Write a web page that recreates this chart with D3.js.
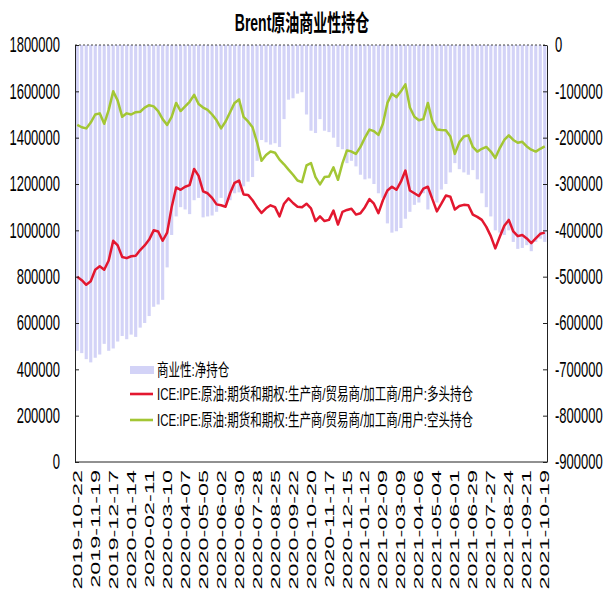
<!DOCTYPE html>
<html lang="zh-CN">
<head>
<meta charset="UTF-8">
<title>Brent原油商业性持仓</title>
<script src="https://cdn.jsdelivr.net/npm/d3@7"></script>
<style>
    body {
        margin: 0;
        background-color: white;
    }
    svg {
        display: block;
    }
    text {
        font-family: "Liberation Sans", Arial, "Noto Sans CJK SC", sans-serif;
        fill: #000;
    }
</style>
</head>
<body>
<svg id="chart" width="613" height="599"></svg>
<script>
// weekly data, first week
var startDate = "2019-10-22";

var tickLabels = ["2019-10-22", "2019-11-19", "2019-12-17", "2020-01-14", "2020-02-11", "2020-03-10",
    "2020-04-07", "2020-05-05", "2020-06-02", "2020-06-30", "2020-07-28", "2020-08-25", "2020-09-22",
    "2020-10-20", "2020-11-17", "2020-12-15", "2021-01-12", "2021-02-09", "2021-03-09", "2021-04-06",
    "2021-05-04", "2021-06-01", "2021-06-29", "2021-07-27", "2021-08-24", "2021-09-21", "2021-10-19"];

// 商业性:净持仓 (right axis)
var netPos = [-660000, -665000, -678000, -685000, -675000, -668000, -645000, -660000, -655000, -640000,
    -628000, -635000, -625000, -630000, -610000, -600000, -585000, -565000, -560000, -550000,
    -480000, -410000, -370000, -350000, -355000, -365000, -335000, -330000, -372000, -370000,
    -368000, -360000, -330000, -345000, -335000, -320000, -318000, -305000, -295000, -285000,
    -250000, -205000, -210000, -215000, -212000, -220000, -160000, -118000, -115000, -105000,
    -102000, -150000, -185000, -190000, -160000, -185000, -188000, -200000, -220000, -225000,
    -255000, -250000, -262000, -280000, -290000, -288000, -300000, -320000, -330000, -385000,
    -405000, -402000, -395000, -375000, -360000, -345000, -340000, -320000, -355000, -330000,
    -340000, -312000, -300000, -275000, -255000, -268000, -275000, -280000, -270000, -290000,
    -320000, -350000, -370000, -400000, -405000, -410000, -400000, -425000, -440000, -438000,
    -432000, -445000, -425000, -418000, -425000];

// 多头持仓 (left axis)
var longPos = [800000, 785000, 765000, 780000, 830000, 845000, 830000, 870000, 955000, 935000,
    885000, 880000, 888000, 890000, 915000, 935000, 960000, 1000000, 995000, 955000,
    990000, 1100000, 1185000, 1175000, 1188000, 1195000, 1265000, 1235000, 1168000, 1160000,
    1140000, 1112000, 1108000, 1102000, 1160000, 1205000, 1215000, 1155000, 1153000, 1130000,
    1100000, 1075000, 1095000, 1108000, 1100000, 1060000, 1115000, 1138000, 1118000, 1102000,
    1100000, 1115000, 1095000, 1040000, 1060000, 1040000, 1045000, 1085000, 1025000, 1080000,
    1088000, 1093000, 1068000, 1074000, 1100000, 1135000, 1115000, 1074000, 1130000, 1172000,
    1188000, 1175000, 1210000, 1258000, 1172000, 1160000, 1148000, 1180000, 1188000, 1135000,
    1082000, 1115000, 1150000, 1145000, 1090000, 1105000, 1110000, 1108000, 1068000, 1058000,
    1045000, 1015000, 975000, 922000, 972000, 1020000, 1045000, 995000, 975000, 980000,
    965000, 945000, 965000, 985000, 990000];

// 空头持仓 (left axis)
var shortPos = [1455000, 1445000, 1440000, 1465000, 1500000, 1505000, 1460000, 1520000, 1600000, 1560000,
    1490000, 1505000, 1500000, 1510000, 1512000, 1530000, 1540000, 1535000, 1515000, 1480000,
    1455000, 1490000, 1550000, 1515000, 1535000, 1555000, 1585000, 1545000, 1530000, 1520000,
    1500000, 1475000, 1440000, 1470000, 1510000, 1550000, 1565000, 1490000, 1470000, 1445000,
    1380000, 1300000, 1325000, 1340000, 1335000, 1305000, 1285000, 1262000, 1240000, 1215000,
    1208000, 1280000, 1290000, 1230000, 1198000, 1230000, 1232000, 1272000, 1218000, 1290000,
    1345000, 1340000, 1330000, 1360000, 1400000, 1435000, 1428000, 1412000, 1460000, 1550000,
    1590000, 1575000, 1600000, 1630000, 1530000, 1490000, 1475000, 1480000, 1550000, 1470000,
    1435000, 1433000, 1432000, 1405000, 1330000, 1380000, 1405000, 1410000, 1360000, 1340000,
    1352000, 1360000, 1340000, 1312000, 1355000, 1390000, 1410000, 1390000, 1378000, 1382000,
    1362000, 1348000, 1340000, 1352000, 1362000];

var seriesNames = ["商业性:净持仓",
    "ICE:IPE:原油:期货和期权:生产商/贸易商/加工商/用户:多头持仓",
    "ICE:IPE:原油:期货和期权:生产商/贸易商/加工商/用户:空头持仓"];

var leftTicks = [0, 200000, 400000, 600000, 800000, 1000000, 1200000, 1400000, 1600000, 1800000];
var rightTicks = [-900000, -800000, -700000, -600000, -500000, -400000, -300000, -200000, -100000, 0];

(function() {
    var barColor = "#d3d3f7",
        longColor = "#e3172f",
        shortColor = "#a3c634";

    // text in the picture is stretched vertically
    var stretch = 1.65;

    var plotLeft = 75, plotRight = 547, plotTop = 45, plotBottom = 462;

    var svg = d3.select("#chart");

    var parse = d3.timeParse("%Y-%m-%d"),
        fmt = d3.timeFormat("%Y-%m-%d");
    var weeks = longPos.map(function(d, i) {
        return fmt(d3.timeDay.offset(parse(startDate), 7 * i));
    });

    var x = d3.scaleBand()
        .domain(weeks)
        .range([plotLeft, plotRight])
        .paddingInner(0.3)
        .paddingOuter(0.15);

    var yL = d3.scaleLinear().domain([0, 1800000]).range([plotBottom, plotTop]);
    var yR = d3.scaleLinear().domain([-900000, 0]).range([plotBottom, plotTop]);

    function cx(w) {
        return x(w) + x.bandwidth() / 2;
    }

    // bars hang from zero at the top
    svg.append("g")
        .selectAll("rect")
        .data(netPos)
        .enter()
        .append("rect")
        .attr("x", function(d, i) { return x(weeks[i]); })
        .attr("y", yR(0))
        .attr("width", x.bandwidth())
        .attr("height", function(d) { return yR(d) - yR(0); })
        .attr("fill", barColor);

    // lines
    function drawLine(values, color) {
        var line = d3.line()
            .x(function(d, i) { return cx(weeks[i]); })
            .y(function(d) { return yL(d); });
        svg.append("path")
            .datum(values)
            .attr("d", line)
            .attr("fill", "none")
            .attr("stroke", color)
            .attr("stroke-width", 2.5)
            .attr("stroke-linejoin", "round");
    }
    drawLine(shortPos, shortColor);
    drawLine(longPos, longColor);

    // top border, dotted
    svg.append("line")
        .attr("x1", plotLeft).attr("x2", plotRight)
        .attr("y1", plotTop).attr("y2", plotTop)
        .attr("stroke", "#444")
        .attr("stroke-dasharray", "2,2");

    // left axis
    var gL = svg.append("g")
        .attr("transform", "translate(" + plotLeft + ",0)")
        .call(d3.axisLeft(yL).tickValues(leftTicks).tickSize(-4).tickSizeOuter(0).tickPadding(15)
            .tickFormat(function(d) { return String(d); }));

    // right axis
    var gR = svg.append("g")
        .attr("transform", "translate(" + plotRight + ",0)")
        .call(d3.axisRight(yR).tickValues(rightTicks).tickSize(-4).tickSizeOuter(0).tickPadding(8)
            .tickFormat(function(d) { return String(d); }));

    [gL, gR].forEach(function(g) {
        g.select(".domain").attr("stroke", "#222");
        g.selectAll(".tick line").attr("stroke", "#222");
        g.selectAll("text")
            .attr("font-size", 13)
            .attr("font-family", "'Liberation Sans', Arial, sans-serif")
            .attr("fill", "#111")
            .attr("transform", "scale(1," + stretch + ")");
    });

    // bottom axis line
    svg.append("line")
        .attr("x1", plotLeft).attr("x2", plotRight)
        .attr("y1", plotBottom).attr("y2", plotBottom)
        .attr("stroke", "#222");

    // x labels, every 4 weeks
    svg.append("g")
        .selectAll("text")
        .data(tickLabels)
        .enter()
        .append("text")
        .attr("transform", function(d) {
            return "translate(" + cx(d) + "," + (plotBottom + 8) + ") scale(1,1.8) rotate(-90)";
        })
        .attr("text-anchor", "end")
        .attr("dy", "0.35em")
        .attr("font-size", 13)
        .attr("fill", "#222")
        .text(function(d) { return d; });

    // title
    svg.append("text")
        .attr("transform", "translate(302,23) scale(1," + stretch + ")")
        .attr("text-anchor", "middle")
        .attr("dy", "0.35em")
        .attr("font-size", 14)
        .attr("font-weight", "bold")
        .text("Brent原油商业性持仓");

    // legend
    var legend = svg.append("g").attr("transform", "translate(130,0)");
    var legendY = [370, 394, 420];

    legend.append("rect")
        .attr("x", 0).attr("y", legendY[0] - 4)
        .attr("width", 24).attr("height", 8)
        .attr("fill", barColor);

    [longColor, shortColor].forEach(function(c, i) {
        legend.append("line")
            .attr("x1", 0).attr("x2", 23)
            .attr("y1", legendY[i + 1]).attr("y2", legendY[i + 1])
            .attr("stroke", c)
            .attr("stroke-width", 2.6);
    });

    legend.selectAll("text.leg")
        .data(seriesNames)
        .enter()
        .append("text")
        .attr("class", "leg")
        .attr("transform", function(d, i) {
            return "translate(27," + legendY[i] + ") scale(1,1.45)";
        })
        .attr("dy", "0.38em")
        .attr("font-size", 11.5)
        .attr("font-family", "'Noto Sans CJK SC', sans-serif")
        .text(function(d) { return d; });
})();
</script>
</body>
</html>
